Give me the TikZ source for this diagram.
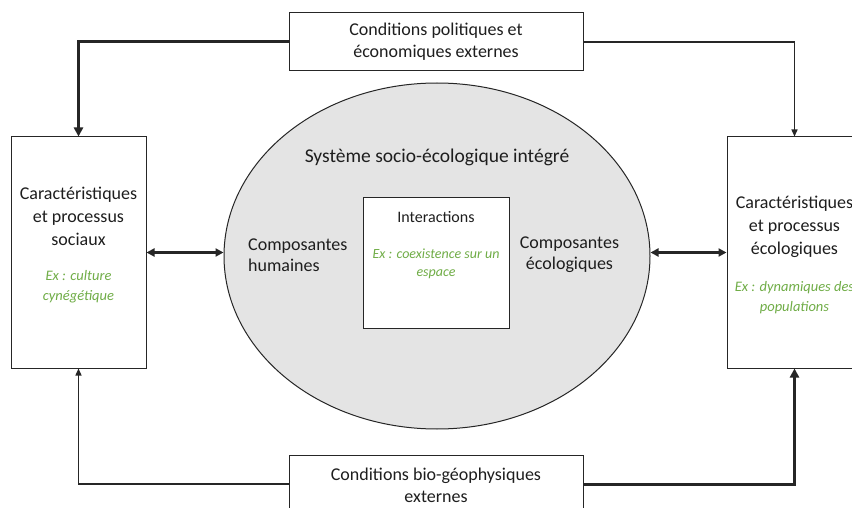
\documentclass[tikz,border=0pt]{standalone}
\usepackage{fontspec}
\setmainfont{Carlito}
\usetikzlibrary{arrows.meta,shapes.geometric}
\definecolor{linec}{HTML}{262626}
\definecolor{txtc}{HTML}{1E1E1E}
\definecolor{exgreen}{HTML}{70AD47}
\definecolor{ellfill}{HTML}{E4E4E4}
\tikzset{
  boxs/.style={draw=linec, line width=1pt, fill=white, inner sep=0pt},
  maintxt/.style={text=txtc, font=\fontsize{18}{23}\selectfont, align=center, inner sep=0pt},
  extxt/.style={text=exgreen, font=\itshape\fontsize{14.5}{20}\selectfont, align=center, inner sep=0pt},
  thickc/.style={draw=linec, line width=3pt, -{Triangle[length=9pt,width=9pt]}},
  thinc/.style={draw=linec, line width=1.4pt, -{Triangle[length=7pt,width=6pt]}},
  dblc/.style={draw=linec, line width=2.6pt, {Triangle[length=8pt,width=8pt]}-{Triangle[length=8pt,width=8pt]}}
}
\begin{document}
\begin{tikzpicture}[x=1pt,y=-1pt]
\useasboundingbox (0,0) rectangle (852,508);
\fill[white] (0,0) rectangle (852,508);
\begin{scope}
\clip (0,0) rectangle (852,508);
% boxes
\node[boxs, minimum width=294pt, minimum height=58pt] (top) at (436,42) {};
\node[boxs, minimum width=294pt, minimum height=58pt] (bot) at (436,484) {};
\node[boxs, minimum width=135pt, minimum height=231pt] (lbox) at (78.5,252.5) {};
\node[boxs, minimum width=135pt, minimum height=231pt] (rbox) at (794.5,252.5) {};
% ellipse
\node[ellipse, draw=linec, line width=1pt, fill=ellfill, minimum width=426pt, minimum height=346pt, inner sep=0pt] (sys) at (437,256) {};
\node[boxs, minimum width=146pt, minimum height=130pt] (inter) at (436,263) {};
% connectors
\draw[thickc] (top.west) -| (lbox.north);
\draw[thinc] (top.east) -| (rbox.north);
\draw[thinc] (bot.west) -| (lbox.south);
\draw[thickc] (bot.east) -| (rbox.south);
\draw[dblc] (lbox.east) -- (lbox.east -| sys.west);
\draw[dblc] (rbox.west -| sys.east) -- (rbox.west);
% texts
\node[maintxt, font=\fontsize{18}{22}\selectfont] (ttop) at (436,42) {Conditions politiques et\\économiques externes};
\node[maintxt, font=\fontsize{18}{22}\selectfont] (tbot) at (436,485) {Conditions bio-géophysiques\\externes};
\node[maintxt] (tl) at (78.5,216) {Caractéristiques\\et processus\\sociaux};
\node[extxt] (el) at (78.5,287) {Ex : culture\\cynégétique};
\node[maintxt] (tr) at (794.5,227) {Caractéristiques\\et processus\\écologiques};
\node[extxt] (er) at (794.5,298) {Ex : dynamiques des\\populations};
\node[maintxt, font=\fontsize{19.5}{22}\selectfont] (tsys) at (437,157) {Système socio-écologique intégré};
\node[maintxt, font=\fontsize{18}{21}\selectfont, align=left, anchor=west] (hum) at (248,255) {Composantes\\humaines};
\node[maintxt, font=\fontsize{18}{21}\selectfont] (eco) at (569.5,255) {Composantes\\écologiques};
\node[maintxt, font=\fontsize{16}{18}\selectfont] (tint) at (436,217) {Interactions};
\node[extxt, font=\itshape\fontsize{14}{18}\selectfont] (eint) at (436,264) {Ex : coexistence sur un\\espace};
\end{scope}
\end{tikzpicture}
\end{document}
